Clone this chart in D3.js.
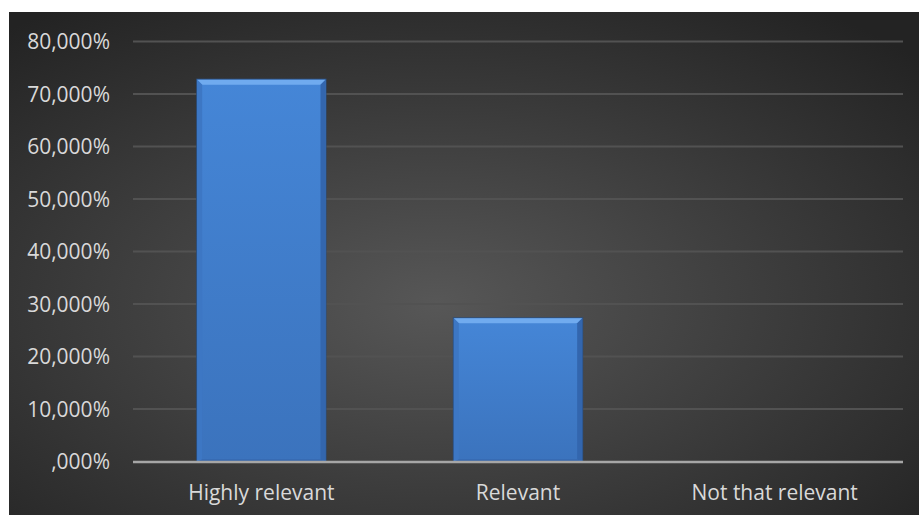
<!DOCTYPE html>
<html>
<head>
<meta charset="utf-8">
<script src="https://cdn.jsdelivr.net/npm/d3@7"></script>
<style>
html,body{margin:0;padding:0;background:#fff;}
svg{display:block;}
</style>
</head>
<body>
<svg id="chart" width="919" height="515"></svg>
<script>
const categories = ["Highly relevant", "Relevant", "Not that relevant"];
const values = [0.7273, 0.2727, 0];
const yTicks = [0, 0.1, 0.2, 0.3, 0.4, 0.5, 0.6, 0.7, 0.8];

const W = 919, H = 515;
const margin = {left: 133, right: 16, top: 41.5, bottom: 53.5};
const svg = d3.select("#chart");
const defs = svg.append("defs");

const bg = defs.append("radialGradient").attr("id","bg")
  .attr("cx","47%").attr("cy","58%").attr("r","72%");
bg.append("stop").attr("offset","0%").attr("stop-color","#575757");
bg.append("stop").attr("offset","100%").attr("stop-color","#232323");

const barG = defs.append("linearGradient").attr("id","barFill")
  .attr("x1","0").attr("y1","0").attr("x2","0").attr("y2","1");
barG.append("stop").attr("offset","0%").attr("stop-color","#4586d7");
barG.append("stop").attr("offset","100%").attr("stop-color","#3b73bd");

svg.append("rect").attr("x",9).attr("y",12).attr("width",W-9).attr("height",H-12)
  .attr("fill","url(#bg)");

const x = d3.scaleBand().domain(categories).range([margin.left, W - margin.right]).paddingInner(0.5).paddingOuter(0.25);
const y = d3.scaleLinear().domain([0, 0.8]).range([H - margin.bottom, margin.top]);

const fmt = v => {
  const s = d3.format(".3%")(v).replace(".", ",");
  return s.startsWith("0,") ? s.slice(1) : s;
};

// gridlines
svg.append("g").selectAll("line").data(yTicks.filter(t => t > 0)).join("line")
  .attr("x1", margin.left).attr("x2", W - margin.right)
  .attr("y1", d => y(d)).attr("y2", d => y(d))
  .attr("stroke", "#525252").attr("stroke-width", 2);

// y axis
const yAxis = svg.append("g").attr("transform", `translate(${margin.left - 23},0)`)
  .call(d3.axisLeft(y).tickValues(yTicks).tickFormat(fmt).tickSize(0).tickPadding(0));
yAxis.select(".domain").remove();
yAxis.selectAll("text").attr("fill", "#d9d9d9")
  .style("font-family", "'Open Sans', sans-serif").style("font-size", "21px")
  .attr("dy", "0.35em");

// bars
const b = 5;
const bars = svg.append("g");
categories.forEach((c, i) => {
  const v = values[i];
  const bx = x(c), bw = x.bandwidth(), by = y(v), bh = y(0) - y(v);
  if (bh < 1) return;
  const g = bars.append("g");
  g.append("rect").attr("x", bx - 1).attr("y", by - 1).attr("width", bw + 2).attr("height", bh + 1)
    .attr("fill", "#2b4f80");
  g.append("rect").attr("x", bx).attr("y", by).attr("width", bw).attr("height", bh).attr("fill", "url(#barFill)");
  // top bevel
  g.append("polygon").attr("points", [[bx,by],[bx+bw,by],[bx+bw-b,by+b],[bx+b,by+b]].join(" "))
    .attr("fill", "#70abef");
  // left bevel
  g.append("polygon").attr("points", [[bx,by],[bx+b,by+b],[bx+b,by+bh-2],[bx,by+bh]].join(" "))
    .attr("fill", "#3d77c4");
  // right bevel
  g.append("polygon").attr("points", [[bx+bw,by],[bx+bw-b,by+b],[bx+bw-b,by+bh-2],[bx+bw,by+bh]].join(" "))
    .attr("fill", "#3366ae");
  // bottom bevel
  g.append("polygon").attr("points", [[bx,by+bh],[bx+b,by+bh-2],[bx+bw-b,by+bh-2],[bx+bw,by+bh]].join(" "))
    .attr("fill", "#3564aa");
});

// baseline
svg.append("line").attr("x1", margin.left).attr("x2", W - margin.right)
  .attr("y1", y(0) + 0.5).attr("y2", y(0) + 0.5).attr("stroke", "#a6a6a6").attr("stroke-width", 2.5);

// x axis labels
const xAxis = svg.append("g").attr("transform", `translate(0,${y(0)})`)
  .call(d3.axisBottom(x).tickSize(0).tickPadding(0));
xAxis.select(".domain").remove();
xAxis.selectAll("text").attr("fill", "#d9d9d9")
  .style("font-family", "'Open Sans', sans-serif").style("font-size", "21px")
  .attr("y", 38.5).attr("dy", 0);
</script>
</body>
</html>
